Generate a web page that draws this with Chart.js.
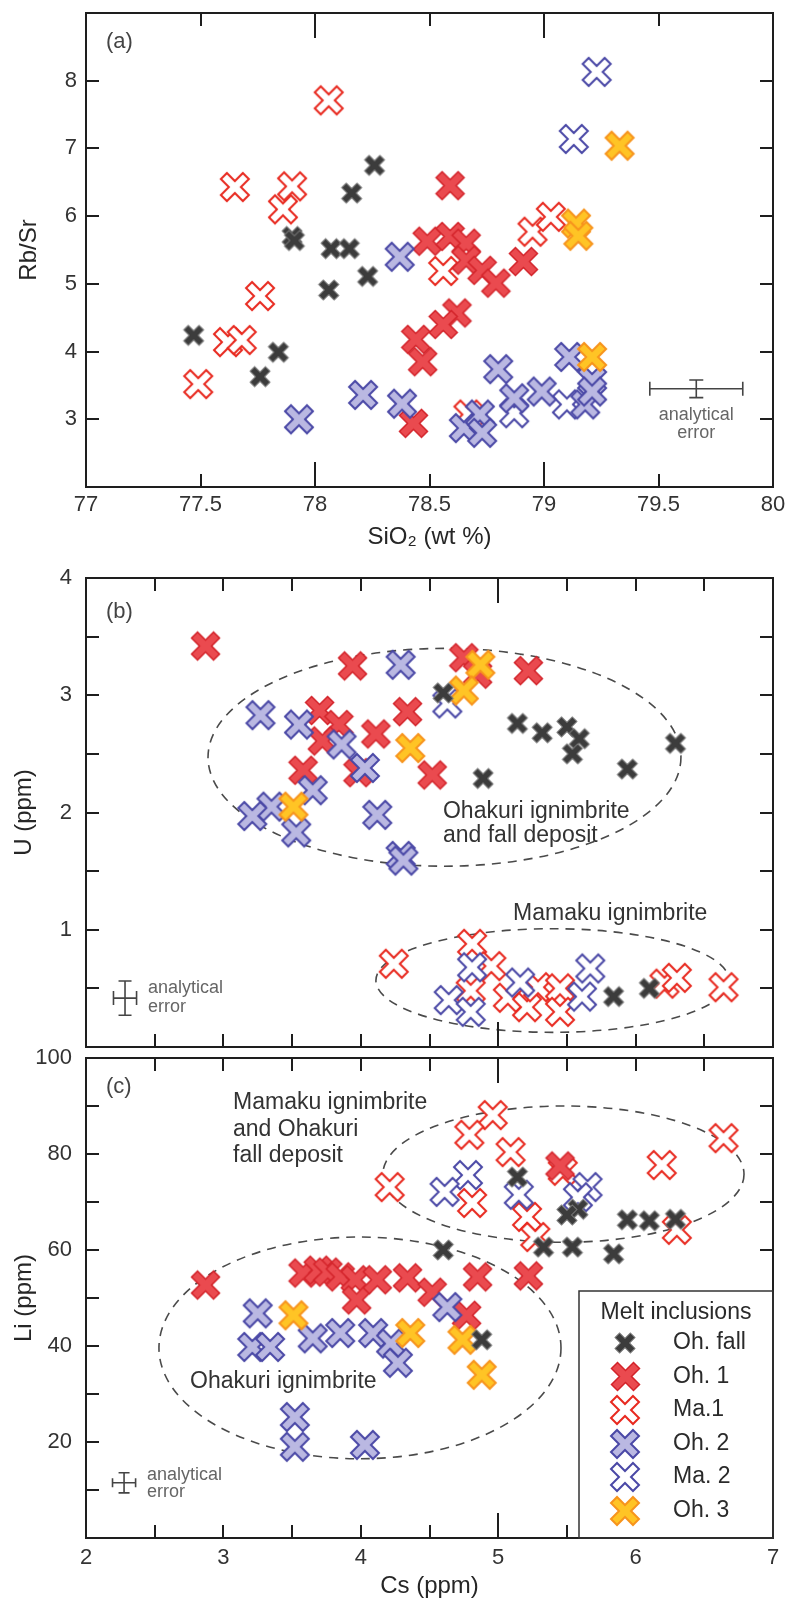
<!DOCTYPE html>
<html><head><meta charset="utf-8">
<script src="https://cdn.jsdelivr.net/npm/chart.js@4.4.1/dist/chart.umd.min.js"></script>
<style>
html,body{margin:0;padding:0;background:#fff;}
body{width:788px;height:1606px;position:relative;overflow:hidden;}
canvas{position:absolute;left:0;}
</style></head><body>
<canvas id="ca" width="788" height="560" style="top:0px"></canvas>
<canvas id="cb" width="788" height="520" style="top:540px"></canvas>
<canvas id="cc" width="788" height="566" style="top:1040px"></canvas>
<script>
// ---------- series ----------
const SERIES = ['Oh. fall', 'Oh. 1', 'Ma.1', 'Oh. 2', 'Ma. 2', 'Oh. 3'];
const DRAW_ORDER = [0, 3, 5, 2, 4, 1]; // smaller = drawn on top

// ---------- panel (a): [SiO2 wt%, Rb/Sr] ----------
const a_ohFall = [[77.47,4.24],[77.76,3.63],[77.84,3.99],[77.90,5.70],[77.91,5.64],[78.07,5.52],[78.06,4.91],[78.15,5.52],[78.16,6.34],[78.23,5.11],[78.26,6.75]];
const a_oh1 = [[78.59,6.45],[78.49,5.63],[78.59,5.70],[78.66,5.60],[78.66,5.35],[78.73,5.20],[78.79,5.01],[78.91,5.33],[78.62,4.57],[78.56,4.40],[78.44,4.18],[78.47,3.85],[78.43,2.94]];
const a_ma1 = [[77.49,3.52],[77.62,4.14],[77.68,4.17],[77.76,4.82],[77.86,6.10],[77.65,6.43],[77.90,6.44],[78.06,7.71],[78.56,5.19],[78.67,3.07],[78.95,5.77],[79.03,5.99]];
const a_oh2 = [[77.93,3.00],[78.21,3.36],[78.37,5.40],[78.38,3.23],[78.65,2.87],[78.72,3.07],[78.73,2.80],[78.80,3.74],[78.87,3.31],[78.99,3.41],[79.11,3.92],[79.18,3.22],[79.21,3.58],[79.21,3.41]];
const a_ma2 = [[79.23,8.13],[79.13,7.14],[78.87,3.09],[79.10,3.22]];
const a_oh3 = [[79.33,7.04],[79.14,5.89],[79.15,5.71],[79.21,3.92]];

// ---------- panel (b): [Cs ppm, U ppm] ----------
const b_ohFall = [[4.60,3.02],[5.14,2.76],[5.32,2.68],[5.50,2.73],[5.59,2.63],[5.54,2.50],[6.29,2.59],[5.94,2.37],[4.89,2.29],[5.84,0.43],[6.10,0.50]];
const b_oh1 = [[2.87,3.42],[3.94,3.25],[3.70,2.87],[3.84,2.75],[3.72,2.61],[4.11,2.67],[4.34,2.86],[4.75,3.32],[4.85,3.18],[5.22,3.21],[4.52,2.32],[3.58,2.36],[3.98,2.34]];
const b_ma1 = [[4.24,0.71],[4.81,0.88],[4.95,0.69],[4.80,0.48],[5.07,0.42],[5.21,0.34],[5.29,0.51],[5.45,0.50],[5.45,0.30],[6.21,0.54],[6.30,0.59],[6.64,0.51]];
const b_oh2 = [[4.29,3.26],[3.27,2.83],[3.55,2.75],[3.86,2.58],[4.03,2.38],[3.65,2.19],[3.35,2.05],[3.21,1.97],[3.53,1.83],[4.12,1.98],[4.29,1.63],[4.31,1.59]];
const b_ma2 = [[4.63,2.93],[4.81,0.68],[4.64,0.40],[4.80,0.30],[5.16,0.55],[5.61,0.43],[5.67,0.67]];
const b_oh3 = [[4.87,3.26],[4.75,3.04],[4.36,2.55],[3.51,2.05]];

// ---------- panel (c): [Cs ppm, Li ppm] ----------
const c_ohFall = [[5.14,75.2],[5.58,68.5],[5.50,67.3],[5.33,60.6],[5.54,60.6],[5.84,59.2],[5.94,66.3],[6.10,66.1],[6.29,66.4],[4.60,60.0],[4.88,41.3]];
const c_oh1 = [[2.87,52.7],[3.58,55.2],[3.69,55.8],[3.76,55.4],[3.85,54.4],[3.96,53.8],[3.97,49.6],[4.12,53.8],[4.34,54.2],[4.52,51.2],[4.77,46.4],[4.85,54.4],[5.22,54.6],[5.45,77.5]];
const c_ma1 = [[4.21,73.1],[4.96,88.1],[4.79,84.0],[5.09,80.4],[6.64,83.3],[6.19,77.7],[5.47,76.5],[4.81,69.8],[5.21,66.9],[5.27,62.7],[6.30,64.2]];
const c_oh2 = [[3.25,46.8],[3.21,39.8],[3.34,39.8],[3.65,41.6],[3.85,42.7],[4.09,42.7],[4.22,40.5],[4.27,36.5],[4.63,48.1],[3.52,25.2],[3.52,19.0],[4.03,19.4]];
const c_ma2 = [[4.78,75.6],[4.61,72.1],[5.15,71.5],[5.65,73.1],[5.58,71.0]];
const c_oh3 = [[3.51,46.4],[4.36,42.7],[4.74,41.3],[4.88,34.0]];

// ---------- tick labels ----------
const aXLabels = [77, 77.5, 78, 78.5, 79, 79.5, 80];
const aYLabels = [3, 4, 5, 6, 7, 8];
const bYLabels = [1, 2, 3, 4];
const cYLabels = [20, 40, 60, 80, 100];
const cXLabels = [2, 3, 4, 5, 6, 7];
// tick marks
const aXTicks = [77.5, 78, 78.5, 79, 79.5], aXLong = [78, 79];
const aYTicks = [3, 4, 5, 6, 7, 8];
const bcXTicks = [2.5, 3, 3.5, 4, 4.5, 5, 5.5, 6, 6.5], bcXLong = [5];
const bYTicks = [0.5, 1, 1.5, 2, 2.5, 3, 3.5];
const cYTicks = [10, 20, 30, 40, 50, 60, 70, 80, 90];

// ---------- styling ----------
const F = '"Liberation Sans", Arial, Helvetica, sans-serif';
function makeMarker(size, thick, fill, stroke, lw) {
  const S = Math.ceil(size + 2 * lw + 4);
  const cv = document.createElement('canvas'); cv.width = S; cv.height = S;
  const g = cv.getContext('2d');
  const t = thick / 2, L = size / Math.SQRT2 - t;
  const p = [[-t,-L],[t,-L],[t,-t],[L,-t],[L,t],[t,t],[t,L],[-t,L],[-t,t],[-L,t],[-L,-t],[-t,-t]];
  g.translate(S / 2, S / 2); g.rotate(Math.PI / 4);
  g.beginPath(); p.forEach((q, i) => i ? g.lineTo(q[0], q[1]) : g.moveTo(q[0], q[1])); g.closePath();
  g.fillStyle = fill; g.fill(); g.lineJoin = 'miter'; g.lineWidth = lw; g.strokeStyle = stroke; g.stroke();
  return cv;
}
const MARK = [
  makeMarker(20, 6.5, '#3c3c3c', '#7a7a7a', 1),
  makeMarker(28, 8.5, '#ea4a4f', '#d3232a', 1.5),
  makeMarker(28, 8.5, '#ffffff', '#e8291f', 2),
  makeMarker(28, 8.5, '#bab8e2', '#4a48a6', 2),
  makeMarker(28, 8.5, '#ffffff', '#4a48a6', 2),
  makeMarker(28, 8.5, '#ffc425', '#f7941d', 2)
];

function pts(arr) { return arr.map(p => ({x: p[0], y: p[1]})); }
function datasets(list) {
  return list.map((arr, i) => ({
    label: SERIES[i], data: pts(arr), pointStyle: MARK[i], pointRadius: 12, pointHoverRadius: 12,
    order: DRAW_ORDER[i], showLine: false
  }));
}

// ---------- decorations (annotations) ----------
const DECO = {
  ca: {
    xTicks: aXTicks, xLong: aXLong, yTicks: aYTicks,
    ellipses: [],
    texts: [
      {t: 'analytical', x: 79.665, y: 3.06, align: 'center', size: 18, color: '#666'},
      {t: 'error', x: 79.665, y: 2.80, align: 'center', size: 18, color: '#666'}
    ],
    err: {x: 79.665, y: 3.45, dx: 0.203, dy: 0.13, capH: 7, capW: 7},
    letter: {t: '(a)', dx: 20, dy: 29},
    legend: false
  },
  cb: {
    xTicks: bcXTicks, xLong: bcXLong, yTicks: bYTicks,
    ellipses: [{cx: 4.609, cy: 2.471, rx: 1.721, ry: 0.929}, {cx: 5.395, cy: 0.567, rx: 1.285, ry: 0.442}],
    texts: [
      {t: 'Ohakuri ignimbrite', x: 4.598, y: 2.008, align: 'left', size: 23, color: '#333'},
      {t: 'and fall deposit', x: 4.598, y: 1.80, align: 'left', size: 23, color: '#333'},
      {t: 'Mamaku ignimbrite', x: 5.108, y: 1.133, align: 'left', size: 23, color: '#333'},
      {t: 'analytical', x: 2.451, y: 0.50, align: 'left', size: 18, color: '#666'},
      {t: 'error', x: 2.451, y: 0.342, align: 'left', size: 18, color: '#666'}
    ],
    err: {x: 2.284, y: 0.417, dx: 0.084, dy: 0.146, capH: 7, capW: 6.5},
    letter: {t: '(b)', dx: 20, dy: 34},
    legend: false
  },
  cc: {
    xTicks: bcXTicks, xLong: bcXLong, yTicks: cYTicks,
    ellipses: [{cx: 5.475, cy: 75.8, rx: 1.314, ry: 14.2}, {cx: 3.994, cy: 39.6, rx: 1.463, ry: 23.1}],
    texts: [
      {t: 'Mamaku ignimbrite', x: 3.07, y: 90.8, align: 'left', size: 23, color: '#333'},
      {t: 'and Ohakuri', x: 3.07, y: 85.0, align: 'left', size: 23, color: '#333'},
      {t: 'fall deposit', x: 3.07, y: 79.6, align: 'left', size: 23, color: '#333'},
      {t: 'Ohakuri ignimbrite', x: 2.757, y: 32.5, align: 'left', size: 23, color: '#333'},
      {t: 'analytical', x: 2.444, y: 13.1, align: 'left', size: 18, color: '#666'},
      {t: 'error', x: 2.444, y: 9.6, align: 'left', size: 18, color: '#666'}
    ],
    err: {x: 2.277, y: 11.5, dx: 0.084, dy: 2.1, capH: 4.5, capW: 5.5},
    letter: {t: '(c)', dx: 20, dy: 29},
    legend: true
  }
};

const decoPlugin = {
  id: 'deco',
  beforeDatasetsDraw(chart) {
    const d = DECO[chart.canvas.id]; const {ctx, scales: {x, y}} = chart;
    d.ellipses.forEach(e => {
      const cx = x.getPixelForValue(e.cx), cy = y.getPixelForValue(e.cy);
      const rx = Math.abs(x.getPixelForValue(e.cx + e.rx) - cx), ry = Math.abs(y.getPixelForValue(e.cy + e.ry) - cy);
      ctx.save(); ctx.setLineDash([9, 7]); ctx.strokeStyle = '#4a4a4a'; ctx.lineWidth = 1.6;
      ctx.beginPath(); ctx.ellipse(cx, cy, rx, ry, 0, 0, 2 * Math.PI); ctx.stroke(); ctx.restore();
    });
  },
  afterDatasetsDraw(chart) {
    const d = DECO[chart.canvas.id]; const {ctx, chartArea: ca, scales: {x, y}} = chart;
    ctx.save();
    ctx.textBaseline = 'middle';
    d.texts.forEach(o => {
      ctx.font = o.size + 'px ' + F; ctx.fillStyle = o.color; ctx.textAlign = o.align;
      ctx.fillText(o.t, x.getPixelForValue(o.x), y.getPixelForValue(o.y));
    });
    // error bars
    const e = d.err;
    const cx = x.getPixelForValue(e.x), cy = y.getPixelForValue(e.y);
    const x1 = x.getPixelForValue(e.x - e.dx), x2 = x.getPixelForValue(e.x + e.dx);
    const y1 = y.getPixelForValue(e.y + e.dy), y2 = y.getPixelForValue(e.y - e.dy);
    ctx.strokeStyle = '#444'; ctx.lineWidth = 1.6; ctx.beginPath();
    ctx.moveTo(x1, cy); ctx.lineTo(x2, cy);
    ctx.moveTo(x1, cy - e.capH); ctx.lineTo(x1, cy + e.capH);
    ctx.moveTo(x2, cy - e.capH); ctx.lineTo(x2, cy + e.capH);
    ctx.moveTo(cx, y1); ctx.lineTo(cx, y2);
    ctx.moveTo(cx - e.capW, y1); ctx.lineTo(cx + e.capW, y1);
    ctx.moveTo(cx - e.capW, y2); ctx.lineTo(cx + e.capW, y2);
    ctx.stroke();
    // panel letter
    ctx.font = '22px ' + F; ctx.fillStyle = '#444'; ctx.textAlign = 'left';
    ctx.fillText(d.letter.t, ca.left + d.letter.dx, ca.top + d.letter.dy);
    ctx.restore();
  },
  afterDraw(chart) {
    const d = DECO[chart.canvas.id]; const {ctx, chartArea: ca, scales: {x, y}} = chart;
    ctx.save();
    ctx.strokeStyle = '#1e1e1e'; ctx.lineWidth = 2;
    ctx.beginPath();
    d.xTicks.forEach(v => {
      const px = Math.round(x.getPixelForValue(v)); const len = d.xLong.includes(v) ? 25 : 13;
      ctx.moveTo(px, ca.bottom); ctx.lineTo(px, ca.bottom - len);
      ctx.moveTo(px, ca.top); ctx.lineTo(px, ca.top + len);
    });
    d.yTicks.forEach(v => {
      const py = Math.round(y.getPixelForValue(v));
      ctx.moveTo(ca.left, py); ctx.lineTo(ca.left + 13, py);
      ctx.moveTo(ca.right, py); ctx.lineTo(ca.right - 13, py);
    });
    ctx.stroke();
    let lg = null;
    if (d.legend) {
      lg = {l: ca.right - 194, t: ca.bottom - 247, w: 194, h: 247};
      ctx.fillStyle = '#fff'; ctx.fillRect(lg.l, lg.t, lg.w, lg.h);
      ctx.textBaseline = 'middle';
      ctx.fillStyle = '#2a2a2a'; ctx.font = '23px ' + F; ctx.textAlign = 'center';
      ctx.fillText('Melt inclusions', lg.l + lg.w / 2, lg.t + 22);
      ctx.textAlign = 'left';
      SERIES.forEach((s, i) => {
        const yy = lg.t + 52 + i * 33.5; const m = MARK[i];
        ctx.drawImage(m, Math.round(lg.l + 46 - m.width / 2), Math.round(yy - m.height / 2));
        ctx.fillStyle = '#2a2a2a'; ctx.fillText(s, lg.l + 94, yy);
      });
    }
    ctx.strokeStyle = '#1e1e1e'; ctx.lineWidth = 2;
    ctx.strokeRect(ca.left, ca.top, ca.right - ca.left, ca.bottom - ca.top);
    if (lg) { ctx.lineWidth = 1.5; ctx.strokeStyle = '#333'; ctx.strokeRect(lg.l, lg.t, lg.w, lg.h); }
    ctx.restore();
  }
};

function scaleOpts(o) {
  return {
    type: 'linear', position: o.pos, min: o.min, max: o.max,
    ticks: {
      display: o.showLabels, stepSize: o.step, autoSkip: false, maxRotation: 0,
      callback: v => (o.labels.includes(v) ? String(v) : ''),
      font: {family: F, size: 22}, color: '#333', padding: o.pad
    },
    grid: {display: false, drawTicks: false},
    border: {display: false},
    title: o.title ? {display: true, text: o.title, font: {family: F, size: 24}, color: '#262626', padding: o.tpad} : {display: false},
    afterFit: s => {
      if (o.pos === 'left') s.width = o.size; else s.height = o.size;
      s.paddingLeft = 0; s.paddingRight = 0; s.paddingTop = 0; s.paddingBottom = 0;
    }
  };
}

function build(id, sets, pad, xs, ys) {
  return new Chart(document.getElementById(id), {
    type: 'scatter',
    data: {datasets: datasets(sets)},
    options: {
      responsive: false, animation: false, devicePixelRatio: 1, events: [],
      layout: {padding: pad},
      plugins: {legend: {display: false}, tooltip: {enabled: false}},
      scales: {x: scaleOpts(xs), y: scaleOpts(ys)}
    },
    plugins: [decoPlugin]
  });
}

build('ca', [a_ohFall, a_oh1, a_ma1, a_oh2, a_ma2, a_oh3], {top: 7, right: 15, left: 0, bottom: 0},
  {pos: 'bottom', min: 77, max: 80, step: 0.5, labels: aXLabels, showLabels: true, pad: 5, size: 73,
   title: 'SiO\u2082 (wt %)', tpad: {top: 0, bottom: 8}},
  {pos: 'left', min: 2, max: 9, step: 1, labels: aYLabels, showLabels: true, pad: 9, size: 86,
   title: 'Rb/Sr', tpad: {top: 15, bottom: 0}});

build('cb', [b_ohFall, b_oh1, b_ma1, b_oh2, b_ma2, b_oh3], {top: 38, right: 15, left: 0, bottom: 0},
  {pos: 'bottom', min: 2, max: 7, step: 1, labels: cXLabels, showLabels: false, pad: 0, size: 2, title: null},
  {pos: 'left', min: 0, max: 4, step: 1, labels: bYLabels, showLabels: true, pad: 14, size: 86,
   title: 'U (ppm)', tpad: {top: 10, bottom: 0}});

build('cc', [c_ohFall, c_oh1, c_ma1, c_oh2, c_ma2, c_oh3], {top: 18, right: 15, left: 0, bottom: 0},
  {pos: 'bottom', min: 2, max: 7, step: 1, labels: cXLabels, showLabels: true, pad: 7, size: 68,
   title: 'Cs (ppm)', tpad: {top: 0, bottom: 5}},
  {pos: 'left', min: 0, max: 100, step: 20, labels: cYLabels, showLabels: true, pad: 14, size: 86,
   title: 'Li (ppm)', tpad: {top: 10, bottom: 0}});
</script>
</body></html>
